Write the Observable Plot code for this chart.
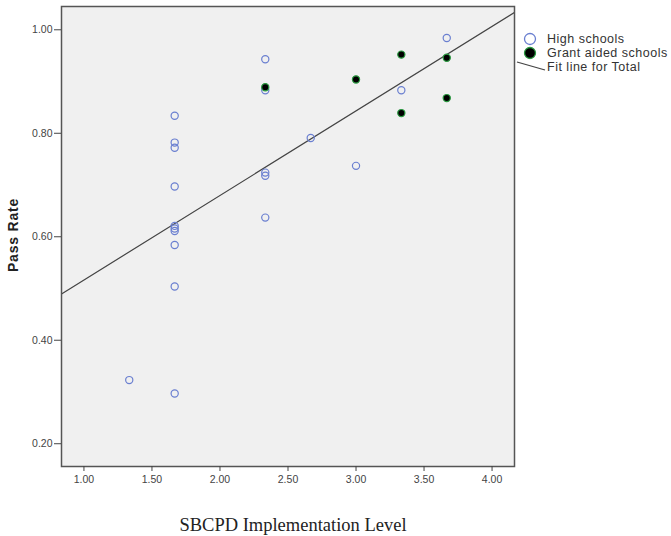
<!DOCTYPE html>
<html>
<head>
<meta charset="utf-8">
<script src="https://cdn.jsdelivr.net/npm/d3@7"></script>
<script src="https://cdn.jsdelivr.net/npm/@observablehq/plot@0.6"></script>
<style>
  html, body { margin: 0; padding: 0; background: #fff; }
  #chart { position: relative; width: 671px; height: 536px; }
</style>
</head>
<body>
<div id="chart"></div>
<script>
// High schools (open blue circles)
const highX = [1.333, 1.667, 1.667, 1.667, 1.667, 1.667, 1.667, 1.667, 1.667, 1.667, 1.667,
               2.333, 2.333, 2.333, 2.333, 2.333, 2.667, 3.0, 3.333, 3.667];
const highY = [0.323, 0.834, 0.782, 0.772, 0.697, 0.621, 0.616, 0.611, 0.584, 0.504, 0.297,
               0.943, 0.883, 0.724, 0.718, 0.637, 0.791, 0.737, 0.883, 0.984];
// Grant aided schools (filled black circles)
const grantX = [2.333, 3.0, 3.333, 3.333, 3.667, 3.667];
const grantY = [0.889, 0.904, 0.952, 0.839, 0.946, 0.868];
// Fit line for Total
const fitIntercept = 0.353;
const fitSlope = 0.1634;
// Axes
const xTicks = [1.0, 1.5, 2.0, 2.5, 3.0, 3.5, 4.0];
const yTicks = [0.2, 0.4, 0.6, 0.8, 1.0];
const xDomain = [0.835, 4.165];
const yDomain = [0.156, 1.045];
const legendLabels = ["High schools", "Grant aided schools", "Fit line for Total"];

const high = highX.map((x, i) => ({x, y: highY[i]}));
const grant = grantX.map((x, i) => ({x, y: grantY[i]}));
const fit = xDomain.map(x => ({x, y: fitIntercept + fitSlope * x}));

const W = 671, H = 536;
const plot = Plot.plot({
  width: W, height: H,
  marginLeft: 61, marginRight: 157, marginTop: 6, marginBottom: 70,
  style: {background: "#fff", fontFamily: "Arial, 'Liberation Sans', sans-serif"},
  x: {domain: xDomain},
  y: {domain: yDomain},
  marks: [
    Plot.frame({fill: "#f0f0f0"}),
    Plot.line(fit, {x: "x", y: "y", stroke: "#444", strokeWidth: 1.2, clip: true}),
    Plot.dot(high, {x: "x", y: "y", r: 3.6, stroke: "#6a7fd0", strokeWidth: 1.2, fill: "none"}),
    Plot.dot(grant, {x: "x", y: "y", r: 3.6, fill: "#000", stroke: "#2a9a40", strokeWidth: 1.2}),
    Plot.frame({stroke: "#555", strokeWidth: 1.5}),
    Plot.axisX({ticks: xTicks, tickFormat: d3.format(".2f"), tickSize: 5, tickPadding: 4, fontSize: 10.5, label: null, color: "#444"}),
    Plot.axisY({ticks: yTicks, tickFormat: d3.format(".2f"), tickSize: 7, tickPadding: 2, fontSize: 10.5, label: null, color: "#444"})
  ]
});
document.getElementById("chart").appendChild(plot);

const svg = d3.select(plot);
// Y title
svg.append("text")
  .attr("transform", "translate(18,235) rotate(-90)")
  .attr("text-anchor", "middle")
  .attr("font-family", "Arial, 'Liberation Sans', sans-serif")
  .attr("font-weight", "bold").attr("font-size", 14).attr("fill", "#222")
  .attr("letter-spacing", "0.8px")
  .text("Pass Rate");
// X title
svg.append("text")
  .attr("x", 293).attr("y", 531)
  .attr("text-anchor", "middle")
  .attr("font-family", "'Liberation Serif', 'Times New Roman', serif")
  .attr("font-size", 18.5).attr("fill", "#222")
  .text("SBCPD Implementation Level");

// Legend
const lg = svg.append("g").attr("font-family", "Arial, 'Liberation Sans', sans-serif")
  .attr("font-size", 12.5).attr("fill", "#333").attr("text-anchor", "start")
  .attr("letter-spacing", "0.5px");
lg.append("circle").attr("cx", 530).attr("cy", 39).attr("r", 5.5)
  .attr("fill", "none").attr("stroke", "#6a7fd0").attr("stroke-width", 1.3);
lg.append("circle").attr("cx", 530).attr("cy", 53).attr("r", 5.5)
  .attr("fill", "#000").attr("stroke", "#2a9a40").attr("stroke-width", 1.3);
lg.append("line").attr("x1", 517).attr("y1", 62).attr("x2", 545).attr("y2", 70)
  .attr("stroke", "#444").attr("stroke-width", 1.2);
legendLabels.forEach((t, i) => {
  lg.append("text").attr("x", 547).attr("y", 39 + i * 14).attr("dy", "0.35em")
    .attr("text-anchor", "start").text(t);
});
</script>
</body>
</html>
